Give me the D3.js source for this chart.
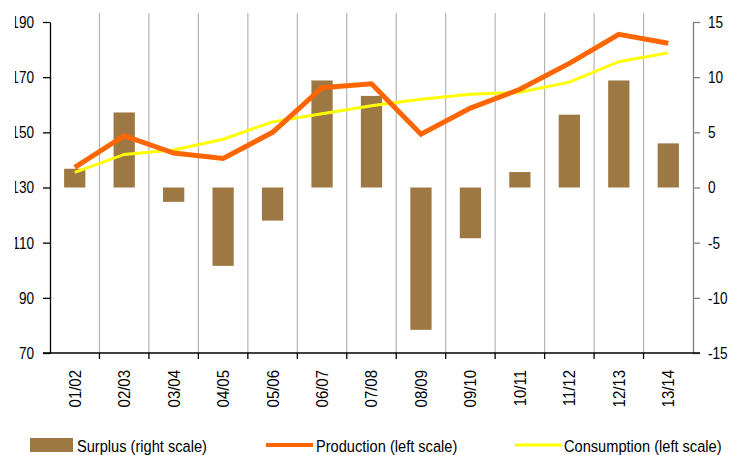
<!DOCTYPE html>
<html>
<head>
<meta charset="utf-8">
<script src="https://cdn.jsdelivr.net/npm/d3@7"></script>
<style>
  body { margin: 0; background: #fff; }
  text { font-family: "Liberation Sans", Arial, sans-serif; font-size: 17px; fill: #000; }
</style>
</head>
<body>
<div id="chart"></div>
<script>
// Chart data
var seasons = ["01/02", "02/03", "03/04", "04/05", "05/06", "06/07", "07/08",
               "08/09", "09/10", "10/11", "11/12", "12/13", "13/14"];
var surplus = [1.7, 6.8, -1.3, -7.1, -3.0, 9.7, 8.3, -12.9, -4.6, 1.4, 6.6, 9.7, 4.0];
var production = [137.3, 148.8, 142.5, 140.5, 150.0, 166.2, 167.6, 149.3, 158.8, 165.6, 175.0, 185.5, 182.3];
var consumption = [135.5, 142.0, 143.6, 147.5, 153.8, 156.7, 159.6, 162.0, 163.8, 164.5, 168.2, 175.6, 178.8];

var leftTicks = [70, 90, 110, 130, 150, 170, 190];
var rightTicks = [-15, -10, -5, 0, 5, 10, 15];
var legendLabels = ["Surplus (right scale)", "Production (left scale)", "Consumption (left scale)"];

// Chart params
var svgWidth = 730;
var svgHeight = 455;
var margin = { top: 22, right: 37, bottom: 102, left: 50 };
var width = svgWidth - margin.left - margin.right;
var height = svgHeight - margin.top - margin.bottom;

// the original text is a bit narrow, squeeze it horizontally
var tickSqueeze = 0.8;
var labelSqueeze = 0.88;
var legendSqueeze = 0.86;

var svg = d3.select("#chart")
    .append("svg")
    .attr("width", svgWidth)
    .attr("height", svgHeight);

var chartGroup = svg.append("g")
    .attr("transform", `translate(${margin.left}, ${margin.top})`);

// left tick labels are cut off near the left edge in the original
chartGroup.append("clipPath")
    .attr("id", "leftclip")
    .append("rect")
    .attr("x", 15 - margin.left)
    .attr("y", -margin.top)
    .attr("width", 200)
    .attr("height", svgHeight);

var x = d3.scaleBand()
    .domain(seasons)
    .range([0, width]);

var yLeft = d3.scaleLinear()
    .domain([70, 190])
    .range([height, 0]);

var yRight = d3.scaleLinear()
    .domain([-15, 15])
    .range([height, 0]);

// vertical gridlines between categories
chartGroup.selectAll(".grid")
    .data(seasons.slice(1))
    .enter()
    .append("line")
    .attr("x1", d => x(d))
    .attr("x2", d => x(d))
    .attr("y1", -9)
    .attr("y2", height)
    .attr("stroke", "#b4b4b4")
    .attr("stroke-width", 1.2);

// Surplus bars
var barW = x.bandwidth() * 0.43;
chartGroup.selectAll(".bar")
    .data(surplus)
    .enter()
    .append("rect")
    .attr("x", (d, i) => x(seasons[i]) + x.bandwidth() / 2 - barW / 2)
    .attr("y", d => yRight(Math.max(0, d)))
    .attr("width", barW)
    .attr("height", d => Math.abs(yRight(d) - yRight(0)))
    .attr("fill", "#9e7842");

// Lines
var lineLeft = d3.line()
    .x((d, i) => x(seasons[i]) + x.bandwidth() / 2)
    .y(d => yLeft(d));

chartGroup.append("path")
    .datum(consumption)
    .attr("d", lineLeft)
    .attr("fill", "none")
    .attr("stroke", "#ffff00")
    .attr("stroke-width", 3);

chartGroup.append("path")
    .datum(production)
    .attr("d", lineLeft)
    .attr("fill", "none")
    .attr("stroke", "#ff6600")
    .attr("stroke-width", 5);

// Axes
var leftAxis = d3.axisLeft(yLeft)
    .tickValues(leftTicks)
    .tickFormat(d => String(d))
    .tickSize(7)
    .tickSizeOuter(0);

var leftG = chartGroup.append("g")
    .call(leftAxis)
    .attr("font-size", null)
    .attr("font-family", null)
    .attr("clip-path", "url(#leftclip)");
leftG.select(".domain").attr("stroke", "#000").attr("stroke-width", 1.3);
leftG.selectAll(".tick line").attr("stroke", "#000").attr("stroke-width", 1.3);
leftG.selectAll(".tick text")
    .attr("transform", `scale(${tickSqueeze},1)`)
    .attr("x", -16 / tickSqueeze);

var rightAxis = d3.axisRight(yRight)
    .tickValues(rightTicks)
    .tickFormat(d => String(d))
    .tickSize(7)
    .tickSizeOuter(0);

var rightG = chartGroup.append("g")
    .attr("transform", `translate(${width}, 0)`)
    .call(rightAxis)
    .attr("font-size", null)
    .attr("font-family", null);
rightG.select(".domain").attr("stroke", "#808080").attr("stroke-width", 1.3);
rightG.selectAll(".tick line").attr("stroke", "#808080").attr("stroke-width", 1.3);
rightG.selectAll(".tick text")
    .attr("transform", `scale(${tickSqueeze},1)`)
    .attr("x", 15 / tickSqueeze);

var bottomAxis = d3.axisBottom(x)
    .tickSize(0)
    .tickPadding(0);

var bottomG = chartGroup.append("g")
    .attr("transform", `translate(0, ${height})`)
    .call(bottomAxis)
    .attr("font-size", null)
    .attr("font-family", null);
bottomG.select(".domain")
    .attr("d", `M-7,0H${width + 7}`)
    .attr("stroke", "#000")
    .attr("stroke-width", 1.3);
bottomG.selectAll(".tick text")
    .attr("transform", `rotate(-90) scale(${labelSqueeze},1)`)
    .attr("text-anchor", "end")
    .attr("x", -17 / labelSqueeze)
    .attr("y", 0)
    .attr("dy", "0.35em");

// tick marks at category boundaries
chartGroup.selectAll(".xtick")
    .data(seasons.slice(1))
    .enter()
    .append("line")
    .attr("x1", d => x(d))
    .attr("x2", d => x(d))
    .attr("y1", height)
    .attr("y2", height + 6)
    .attr("stroke", "#000")
    .attr("stroke-width", 1.3);

// Legend
var legend = svg.append("g");
var legY = 445;

legend.append("rect")
    .attr("x", 30).attr("y", 438)
    .attr("width", 43).attr("height", 14)
    .attr("fill", "#9e7842");
legend.append("line")
    .attr("x1", 266).attr("x2", 313)
    .attr("y1", legY).attr("y2", legY)
    .attr("stroke", "#ff6600").attr("stroke-width", 4);
legend.append("line")
    .attr("x1", 515).attr("x2", 561)
    .attr("y1", legY).attr("y2", legY)
    .attr("stroke", "#ffff00").attr("stroke-width", 3);

legend.selectAll(".legtext")
    .data(legendLabels)
    .enter()
    .append("text")
    .attr("transform", (d, i) => `translate(${[77, 316, 564][i]}, 452) scale(${legendSqueeze},1)`)
    .text(d => d);
</script>
</body>
</html>
